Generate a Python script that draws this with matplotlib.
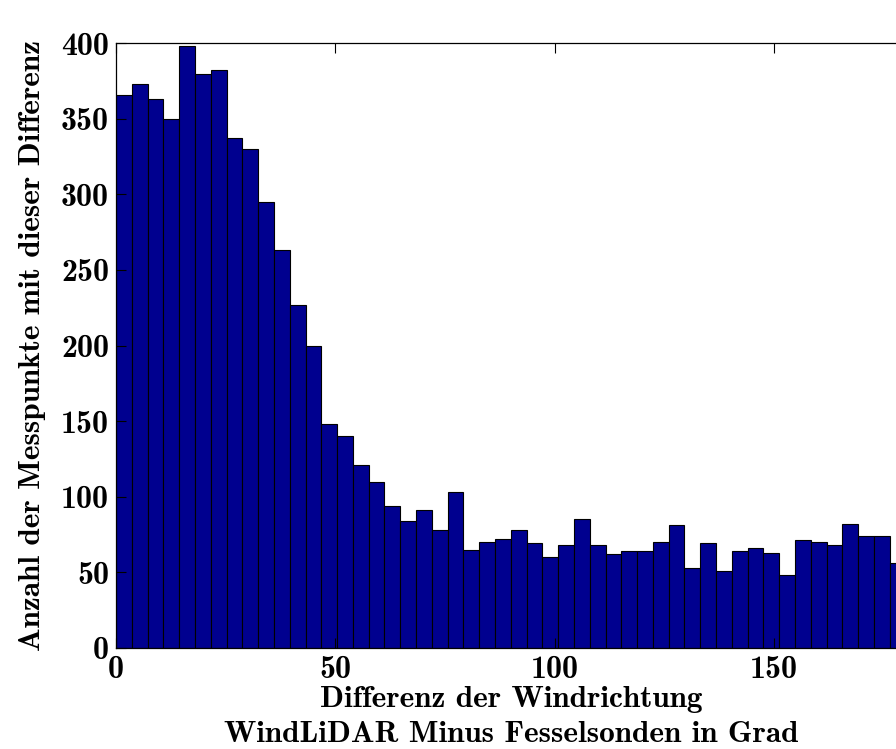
import matplotlib
matplotlib.use('Agg')
import matplotlib.pyplot as plt
import numpy as np

# Histogram of wind direction differences (WindLiDAR minus tethered sonde)
bin_width = 3.6
bin_left = np.arange(50) * bin_width
counts = [366, 373, 363, 350, 398, 380, 382, 337, 330, 295,
          263, 227, 200, 148, 140, 121, 110, 94, 84, 91,
          78, 103, 65, 70, 72, 78, 69, 60, 68, 85,
          68, 62, 64, 64, 70, 81, 53, 69, 51, 64,
          66, 63, 48, 71, 70, 68, 82, 74, 74, 56]

x_ticks = [0, 50, 100, 150]
y_ticks = [0, 50, 100, 150, 200, 250, 300, 350, 400]

plt.rcParams['font.family'] = ['cmb10', 'DejaVu Sans']
plt.rcParams['axes.unicode_minus'] = False

fig = plt.figure(figsize=(8.96, 7.49), dpi=100)
ax = fig.add_axes([0.1295, 0.1352, 0.8811, 0.807])

ax.bar(bin_left, counts, width=bin_width, align='edge',
       color='#00008f', edgecolor='black', linewidth=0.8)

ax.set_xlim(0, 180)
ax.set_ylim(0, 400)
ax.set_xticks(x_ticks)
ax.set_yticks(y_ticks)
ax.tick_params(direction='in', top=True, right=False, length=7,
               width=0.8, labelsize=23, pad=5)
for s in ax.spines.values():
    s.set_linewidth(0.9)

ax.set_xlabel('Differenz der Windrichtung\nWindLiDAR Minus Fesselsonden in Grad',
              fontsize=22.5, labelpad=2, linespacing=1.38)
ax.set_ylabel('Anzahl der Messpunkte mit dieser Differenz', fontsize=22.5,
              labelpad=11)

fig.savefig('out.png', dpi=100)
